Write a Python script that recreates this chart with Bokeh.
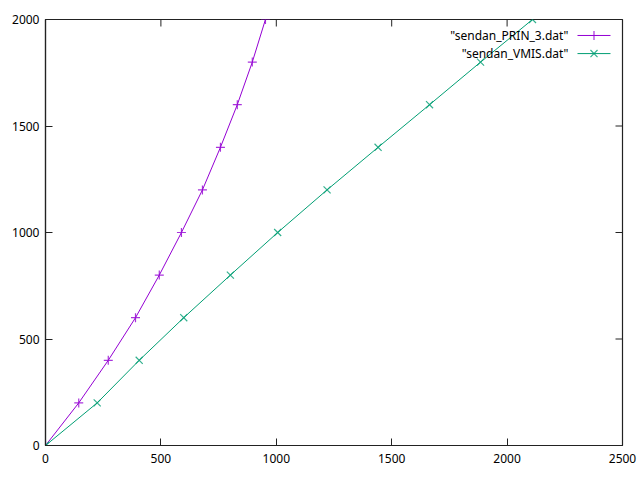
from bokeh.plotting import figure
from bokeh.models import Range1d, FixedTicker
from bokeh.core.properties import value
from bokeh.embed import file_html
from bokeh.resources import INLINE

# data
prin_x = [0, 144, 272, 390, 493, 589, 680, 758, 831, 896, 953]
prin_y = [0, 200, 400, 600, 800, 1000, 1200, 1400, 1600, 1800, 2000]
vmis_x = [0, 224, 406, 599, 801, 1006, 1220, 1441, 1664, 1885, 2110]
vmis_y = [0, 200, 400, 600, 800, 1000, 1200, 1400, 1600, 1800, 2000]
series_names = ['"sendan_PRIN_3.dat"', '"sendan_VMIS.dat"']
x_ticks = [0, 500, 1000, 1500, 2000, 2500]
y_ticks = [0, 500, 1000, 1500, 2000]

PURPLE = "#9400d3"
GREEN = "#009e73"
FONT = "Noto Sans"
X0, X1, Y0, Y1 = 0, 2500, 0, 2000
FW, FH = 577, 426      # frame size in px
TICK = 7               # tick length in px

p = figure(width=640, height=480, output_backend="svg", toolbar_location=None,
           x_range=Range1d(X0, X1), y_range=Range1d(Y0, Y1),
           min_border_left=45, min_border_right=18, min_border_top=19,
           min_border_bottom=35)
p.grid.visible = False
p.outline_line_color = "#222222"
p.outline_line_width = 1.2
p.background_fill_color = "white"
p.border_fill_color = "white"

for ax, ticks in ((p.xaxis[0], x_ticks), (p.yaxis[0], y_ticks)):
    ax.ticker = FixedTicker(ticks=ticks)
    ax.major_tick_in = TICK
    ax.major_tick_out = 0
    ax.minor_tick_line_color = None
    ax.axis_line_color = "#222222"
    ax.axis_line_width = 1.2
    ax.major_tick_line_color = "#222222"
    ax.major_label_text_font = FONT
    ax.major_label_text_font_size = "12px"
    ax.major_label_text_color = "black"
p.xaxis[0].major_label_standoff = 8
p.yaxis[0].major_label_standoff = 6

# mirrored ticks on top and right border
dy = (Y1 - Y0) * TICK / FH
dx = (X1 - X0) * TICK / FW
p.segment(x0=x_ticks, y0=[Y1] * len(x_ticks), x1=x_ticks, y1=[Y1 - dy] * len(x_ticks),
          line_color="#222222", line_width=1)
p.segment(x0=[X1] * len(y_ticks), y0=y_ticks, x1=[X1 - dx] * len(y_ticks), y1=y_ticks,
          line_color="#222222", line_width=1)

# series
p.line(prin_x, prin_y, line_color=PURPLE, line_width=1)
p.scatter(prin_x, prin_y, marker="cross", size=9, line_color=PURPLE, line_width=1.2, line_alpha=0.8)
p.line(vmis_x, vmis_y, line_color=GREEN, line_width=1)
p.scatter(vmis_x, vmis_y, marker="x", size=10, line_color=GREEN, line_width=1.2, line_alpha=0.8)

# gnuplot-style key (text right-aligned, sample to its right)
key_y = [1925, 1840]
key_text_x = 2266
key_s0, key_s1 = 2305, 2448
key_mid = (key_s0 + key_s1) / 2
colors = [PURPLE, GREEN]
markers = ["cross", "x"]
for name, ky, c, m in zip(series_names, key_y, colors, markers):
    p.text(x=[key_text_x], y=[ky], text=[name], text_align="right", text_baseline="middle",
           text_font=value(FONT), text_font_size="12px", text_color="black")
    p.line([key_s0, key_s1], [ky, ky], line_color=c, line_width=1)
    p.scatter([key_mid], [ky], marker=m, size=9 if m == "cross" else 10,
              line_color=c, line_width=1.2, line_alpha=0.8)

open("out.html", "w").write(file_html(p, INLINE))
